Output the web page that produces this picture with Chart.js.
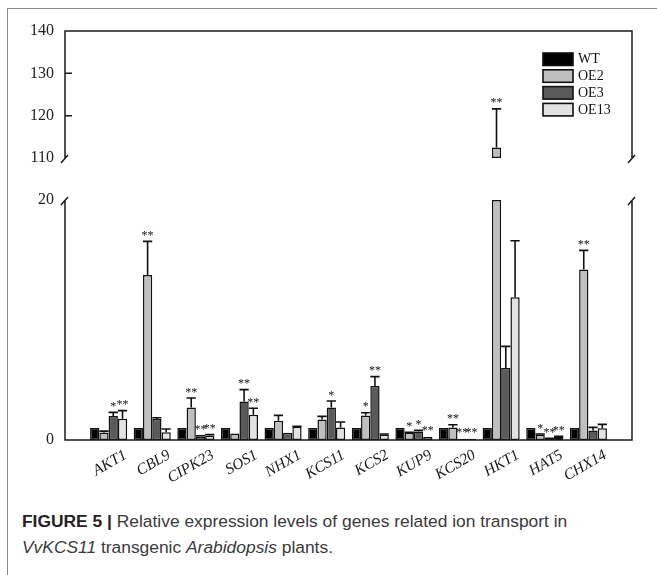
<!DOCTYPE html>
<html>
<head>
<meta charset="utf-8">
<script src="https://cdn.jsdelivr.net/npm/chart.js@4/dist/chart.umd.min.js"></script>
<style>
  body { margin: 0; background: #fff; width: 657px; height: 575px; position: relative; overflow: hidden; }
  #marco { position: absolute; left: 7px; top: 8px; right: -5px; bottom: -5px; border-left: 1px solid #8a8a8a; border-top: 1px solid #8a8a8a; }
  #grafico { position: absolute; left: 0; top: 0; }
  #pie { position: absolute; left: 22px; top: 508px; font: 17.4px "Liberation Sans", Arial, sans-serif; color: #3a3a3a; line-height: 26px; white-space: nowrap; }
  #pie b { color: #222; }
</style>
</head>
<body>
<div id="marco"></div>
<canvas id="grafico" width="657" height="500"></canvas>
<div id="pie"><b>FIGURE 5 |</b> Relative expression levels of genes related ion transport in<br><i>VvKCS11</i> transgenic <i>Arabidopsis</i> plants.</div>

<script>
// Datos
const genes = ['AKT1', 'CBL9', 'CIPK23', 'SOS1', 'NHX1', 'KCS11', 'KCS2', 'KUP9', 'KCS20', 'HKT1', 'HAT5', 'CHX14'];
const series = ['WT', 'OE2', 'OE3', 'OE13'];

const wt     = [1, 1, 1, 1, 1, 1, 1, 1, 1, 1, 1, 1];
const wtErr  = [0, 0, 0, 0, 0, 0, 0, 0, 0, 0, 0, 0];
const wtSig  = ['', '', '', '', '', '', '', '', '', '', '', ''];

const oe2    = [0.62, 13.75, 2.7, 0.55, 1.6, 1.7, 2.05, 0.6, 1.05, 112.5, 0.45, 14.2];
const oe2Err = [0.12, 2.8, 0.8, 0, 0.45, 0.27, 0.22, 0.05, 0.22, 9.1, 0.05, 1.6];
const oe2Sig = ['', '**', '**', '', '', '', '*', '*', '**', '**', '*', '**'];

const oe3    = [2.0, 1.75, 0.3, 3.2, 0.6, 2.7, 4.5, 0.7, 0.1, 6.0, 0.1, 0.8];
const oe3Err = [0.3, 0.1, 0.05, 1.0, 0, 0.55, 0.78, 0.1, 0, 1.8, 0.05, 0.25];
const oe3Sig = ['*', '', '**', '**', '', '*', '**', '*', '**', '', '**', ''];

const oe13    = [1.78, 0.65, 0.35, 2.1, 1.1, 1.05, 0.45, 0.28, 0.1, 11.9, 0.25, 0.97];
const oe13Err = [0.67, 0.27, 0.1, 0.55, 0.05, 0.45, 0.05, 0, 0, 4.7, 0.05, 0.33];
const oe13Sig = ['**', '', '**', '**', '', '', '', '**', '**', '', '**', ''];

// eje Y partido
const yLowTicks = [0, 20];
const yUpTicks = [110, 120, 130, 140];
const LOW_MAX = 20, UP_MIN = 110, UP_MAX = 140;

const valores = [wt, oe2, oe3, oe13];
const errores = [wtErr, oe2Err, oe3Err, oe13Err];
const signif = [wtSig, oe2Sig, oe3Sig, oe13Sig];
const colores = ['#000000', '#bfbfbf', '#5a5a5a', '#e3e3e3'];

const SERIF = '"Liberation Serif", "Times New Roman", serif';

// categorías vacías a los lados para dejar el margen de la figura
const etiquetas = ['', ...genes, ''];
const relleno = arr => [null, ...arr, null];

const datasets = [];
series.forEach((nombre, s) => {
    datasets.push({
        label: nombre,
        data: relleno(valores[s].map(v => Math.min(v, LOW_MAX))),
        yAxisID: 'y', stack: nombre,
        backgroundColor: colores[s], borderColor: '#111', borderWidth: 1.5,
        borderSkipped: false, barPercentage: 1, categoryPercentage: 0.85
    });
});
series.forEach((nombre, s) => {
    datasets.push({
        label: nombre + ' (alto)',
        data: relleno(valores[s].map(v => v > UP_MIN ? v : null)),
        yAxisID: 'yup', stack: nombre, base: UP_MIN,
        backgroundColor: colores[s], borderColor: '#111', borderWidth: 1.5,
        borderSkipped: false, barPercentage: 1, categoryPercentage: 0.85
    });
});

// marco, cortes del eje y marcas internas
const ejes = {
    id: 'ejes',
    afterDraw(chart) {
        const { ctx, chartArea: a, scales } = chart;
        const lo = scales.y, up = scales.yup;
        const yT = up.getPixelForValue(UP_MAX), yU = up.getPixelForValue(UP_MIN);
        const yL = lo.getPixelForValue(LOW_MAX), yB = lo.getPixelForValue(0);
        ctx.save();
        ctx.strokeStyle = '#1a1a1a';
        ctx.lineWidth = 1.5;
        ctx.beginPath();
        ctx.moveTo(a.left, yU); ctx.lineTo(a.left, yT); ctx.lineTo(a.right, yT); ctx.lineTo(a.right, yU);
        ctx.moveTo(a.left, yL); ctx.lineTo(a.left, yB); ctx.lineTo(a.right, yB); ctx.lineTo(a.right, yL);
        [[a.left, yU], [a.left, yL], [a.right, yU], [a.right, yL]].forEach(([x, y]) => {
            ctx.moveTo(x - 4, y + 5);
            ctx.lineTo(x + 3, y - 3);
        });
        yUpTicks.filter(v => v > UP_MIN && v < UP_MAX).forEach(v => {
            const y = up.getPixelForValue(v);
            ctx.moveTo(a.left, y);
            ctx.lineTo(a.left + 7, y);
        });
        ctx.stroke();
        ctx.restore();
    }
};

// barras de error y asteriscos
const barrasError = {
    id: 'barrasError',
    afterDatasetsDraw(chart) {
        const ctx = chart.ctx;
        ctx.save();
        ctx.strokeStyle = '#111';
        ctx.lineWidth = 1.6;
        ctx.fillStyle = '#111';
        ctx.font = '12px ' + SERIF;
        ctx.textAlign = 'center';
        ctx.textBaseline = 'alphabetic';
        series.forEach((_, s) => {
            valores[s].forEach((v, i) => {
                const meta = chart.getDatasetMeta(v > LOW_MAX ? s + 4 : s);
                const barra = meta.data[i + 1];
                const escala = chart.scales[meta.yAxisID];
                const e = errores[s][i];
                const x = barra.x, w = barra.width;
                const y0 = escala.getPixelForValue(v);
                const y1 = escala.getPixelForValue(v + e);
                if (e > 0) {
                    ctx.beginPath();
                    ctx.moveTo(x, y0); ctx.lineTo(x, y1);
                    ctx.moveTo(x - w / 2, y1); ctx.lineTo(x + w / 2, y1);
                    ctx.stroke();
                }
                if (signif[s][i]) ctx.fillText(signif[s][i], x, y1 - 2.5);
            });
        });
        ctx.restore();
    }
};

// leyenda dentro del área
const leyenda = {
    id: 'leyenda',
    afterDraw(chart) {
        const { ctx, chartArea: a } = chart;
        ctx.save();
        ctx.font = '14px ' + SERIF;
        ctx.textBaseline = 'middle';
        ctx.textAlign = 'left';
        series.forEach((nombre, s) => {
            const x = a.right - 89, y = a.top + 22 + s * 16.8;
            ctx.fillStyle = colores[s];
            ctx.fillRect(x, y, 30, 12.5);
            ctx.strokeStyle = '#111';
            ctx.lineWidth = 1.6;
            ctx.strokeRect(x, y, 30, 12.5);
            ctx.fillStyle = '#111';
            ctx.fillText(nombre, x + 35, y + 6.5);
        });
        ctx.restore();
    }
};

const fijarAncho = s => { s.width = 65; };
const fuenteTicks = { family: SERIF, size: 16 };

new Chart(document.getElementById('grafico'), {
    type: 'bar',
    data: { labels: etiquetas, datasets: datasets },
    options: {
        responsive: false,
        animation: false,
        layout: { padding: { top: 31, right: 25, left: 0, bottom: 0 } },
        plugins: { legend: { display: false }, tooltip: { enabled: false } },
        scales: {
            x: {
                type: 'category', offset: false,
                grid: { display: false, drawTicks: false }, border: { display: false },
                afterFit: s => { s.height = 60; },
                ticks: {
                    autoSkip: false, maxRotation: 30, minRotation: 30, padding: 6, labelOffset: 17,
                    color: '#1a1a1a', font: { family: SERIF, style: 'italic', size: 15.5 }
                }
            },
            y: {
                type: 'linear', position: 'left', stack: 'v', stackWeight: 240, stacked: false,
                min: 0, max: LOW_MAX,
                afterBuildTicks: s => { s.ticks = yLowTicks.map(v => ({ value: v })); },
                afterFit: fijarAncho,
                grid: { display: false, drawTicks: false }, border: { display: false },
                ticks: { color: '#222', padding: 11, font: fuenteTicks }
            },
            ygap: {
                type: 'linear', position: 'left', stack: 'v', stackWeight: 42,
                afterFit: fijarAncho,
                grid: { display: false, drawTicks: false }, border: { display: false },
                ticks: { display: false }
            },
            yup: {
                type: 'linear', position: 'left', stack: 'v', stackWeight: 127, stacked: false,
                min: UP_MIN, max: UP_MAX,
                afterBuildTicks: s => { s.ticks = yUpTicks.map(v => ({ value: v })); },
                afterFit: fijarAncho,
                grid: { display: false, drawTicks: false }, border: { display: false },
                ticks: { color: '#222', padding: 11, font: fuenteTicks }
            }
        }
    },
    plugins: [ejes, barrasError, leyenda]
});
</script>
</body>
</html>
